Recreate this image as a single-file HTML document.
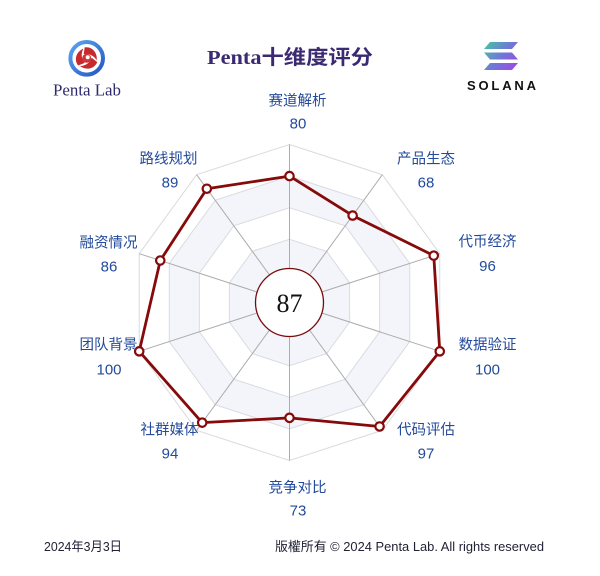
<!DOCTYPE html>
<html>
<head>
<meta charset="utf-8">
<style>
html,body{margin:0;padding:0;background:#fff;}
svg{display:block;}
.lab{font-family:"Liberation Sans","Noto Sans CJK SC",sans-serif;font-size:14.5px;fill:#234a9b;text-anchor:middle;}
.num{font-family:"Liberation Sans","Noto Sans CJK SC",sans-serif;font-size:15px;fill:#234a9b;text-anchor:middle;}
</style>
</head>
<body>
<svg width="600" height="576" viewBox="0 0 600 576" xmlns="http://www.w3.org/2000/svg">
<defs>
<linearGradient id="blueRing" x1="0" y1="0" x2="1" y2="1">
<stop offset="0" stop-color="#5aa6f0"/>
<stop offset="1" stop-color="#2456c2"/>
</linearGradient>
<linearGradient id="sol" x1="484" y1="42" x2="518" y2="70" gradientUnits="userSpaceOnUse">
<stop offset="0" stop-color="#46c9a2"/>
<stop offset="0.5" stop-color="#6f78d6"/>
<stop offset="1" stop-color="#a443e6"/>
</linearGradient>
</defs>
<rect width="600" height="576" fill="#fff"/>

<!-- Penta Lab logo -->
<circle cx="86.7" cy="58.3" r="16.3" fill="#fff" stroke="url(#blueRing)" stroke-width="4"/>
<g transform="translate(86.7,58.3)" fill="#c62a2c">
<path d="M-2,-11 C6,-12 11,-5 10,2 C7,-3 2,-5 -3,-4 Z"/>
<path transform="rotate(120)" d="M-2,-11 C6,-12 11,-5 10,2 C7,-3 2,-5 -3,-4 Z"/>
<path transform="rotate(240)" d="M-2,-11 C6,-12 11,-5 10,2 C7,-3 2,-5 -3,-4 Z"/>
<circle r="4.5" fill="#d23436"/>
<circle r="2" cx="1" cy="-1" fill="#fff"/>
</g>
<text x="87" y="95.5" font-family="'Liberation Serif',serif" font-size="16.5" fill="#2e2a6b" text-anchor="middle" textLength="68" lengthAdjust="spacingAndGlyphs">Penta Lab</text>

<!-- Title -->
<text x="290" y="64" font-family="'Liberation Serif','Noto Sans CJK SC',serif" font-size="20" font-weight="bold" fill="#3b2a72" text-anchor="middle" textLength="166" lengthAdjust="spacingAndGlyphs">Penta十维度评分</text>

<!-- Solana logo -->
<g fill="url(#sol)">
<polygon points="490,42 518,42 512,49 484,49"/>
<polygon points="484,52.5 512,52.5 518,59.5 490,59.5"/>
<polygon points="490,63 518,63 512,70 484,70"/>
</g>
<text x="502.5" y="90" font-family="'Liberation Sans',sans-serif" font-size="13" font-weight="bold" fill="#111" text-anchor="middle" letter-spacing="2" textLength="71" lengthAdjust="spacing">SOLANA</text>

<!-- Radar -->
<g transform="translate(289.5,302.5)">
<path fill="#f3f5fb" fill-rule="evenodd" d="
M0,-126.4 L74.3,-102.26 L120.22,-39.06 L120.22,39.06 L74.3,102.26 L0,126.4 L-74.3,102.26 L-120.22,39.06 L-120.22,-39.06 L-74.3,-102.26 Z
M0,-94.8 L55.72,-76.69 L90.16,-29.29 L90.16,29.29 L55.72,76.69 L0,94.8 L-55.72,76.69 L-90.16,29.29 L-90.16,-29.29 L-55.72,-76.69 Z"/>
<path fill="#f3f5fb" fill-rule="evenodd" d="
M0,-63.2 L37.15,-51.13 L60.11,-19.53 L60.11,19.53 L37.15,51.13 L0,63.2 L-37.15,51.13 L-60.11,19.53 L-60.11,-19.53 L-37.15,-51.13 Z
M0,-31.6 L18.57,-25.56 L30.05,-9.76 L30.05,9.76 L18.57,25.56 L0,31.6 L-18.57,25.56 L-30.05,9.76 L-30.05,-9.76 L-18.57,-25.56 Z"/>
<g fill="none" stroke="#d9dbe0" stroke-width="1">
<polygon points="0,-31.6 18.57,-25.56 30.05,-9.76 30.05,9.76 18.57,25.56 0,31.6 -18.57,25.56 -30.05,9.76 -30.05,-9.76 -18.57,-25.56"/>
<polygon points="0,-63.2 37.15,-51.13 60.11,-19.53 60.11,19.53 37.15,51.13 0,63.2 -37.15,51.13 -60.11,19.53 -60.11,-19.53 -37.15,-51.13"/>
<polygon points="0,-94.8 55.72,-76.69 90.16,-29.29 90.16,29.29 55.72,76.69 0,94.8 -55.72,76.69 -90.16,29.29 -90.16,-29.29 -55.72,-76.69"/>
<polygon points="0,-126.4 74.3,-102.26 120.22,-39.06 120.22,39.06 74.3,102.26 0,126.4 -74.3,102.26 -120.22,39.06 -120.22,-39.06 -74.3,-102.26"/>
<polygon points="0,-158 92.87,-127.82 150.27,-48.82 150.27,48.82 92.87,127.82 0,158 -92.87,127.82 -150.27,48.82 -150.27,-48.82 -92.87,-127.82"/>
</g>
<g stroke="#acacac" stroke-width="1">
<line x1="0" y1="0" x2="0" y2="-158"/>
<line x1="0" y1="0" x2="92.87" y2="-127.82"/>
<line x1="0" y1="0" x2="150.27" y2="-48.82"/>
<line x1="0" y1="0" x2="150.27" y2="48.82"/>
<line x1="0" y1="0" x2="92.87" y2="127.82"/>
<line x1="0" y1="0" x2="0" y2="158"/>
<line x1="0" y1="0" x2="-92.87" y2="127.82"/>
<line x1="0" y1="0" x2="-150.27" y2="48.82"/>
<line x1="0" y1="0" x2="-150.27" y2="-48.82"/>
<line x1="0" y1="0" x2="-92.87" y2="-127.82"/>
</g>
<polygon fill="none" stroke="#860a0a" stroke-width="2.8" stroke-linejoin="round" points="0,-126.4 63.15,-86.92 144.26,-46.87 150.27,48.82 90.08,123.99 0,115.34 -87.3,120.15 -150.27,48.82 -129.23,-41.99 -82.65,-113.76"/>
<g fill="#fff" stroke="#860a0a" stroke-width="2.2">
<circle cx="0" cy="-126.4" r="4.2"/>
<circle cx="63.15" cy="-86.92" r="4.2"/>
<circle cx="144.26" cy="-46.87" r="4.2"/>
<circle cx="150.27" cy="48.82" r="4.2"/>
<circle cx="90.08" cy="123.99" r="4.2"/>
<circle cx="0" cy="115.34" r="4.2"/>
<circle cx="-87.3" cy="120.15" r="4.2"/>
<circle cx="-150.27" cy="48.82" r="4.2"/>
<circle cx="-129.23" cy="-41.99" r="4.2"/>
<circle cx="-82.65" cy="-113.76" r="4.2"/>
</g>
<circle cx="0" cy="0" r="34" fill="#fff" stroke="#7a0a0a" stroke-width="1.3"/>
<text x="0" y="9.5" font-family="'Liberation Serif',serif" font-size="26" fill="#111" text-anchor="middle">87</text>
</g>

<!-- labels -->
<text class="lab" x="297.5" y="105.5" textLength="58" lengthAdjust="spacingAndGlyphs">赛道解析</text>
<text class="num" x="298" y="128.3">80</text>
<text class="lab" x="426" y="163.5" textLength="58" lengthAdjust="spacingAndGlyphs">产品生态</text>
<text class="num" x="426" y="187.5">68</text>
<text class="lab" x="487.5" y="246.5" textLength="58" lengthAdjust="spacingAndGlyphs">代币经济</text>
<text class="num" x="487.5" y="271">96</text>
<text class="lab" x="487.5" y="349.5" textLength="58" lengthAdjust="spacingAndGlyphs">数据验证</text>
<text class="num" x="487.5" y="374.5">100</text>
<text class="lab" x="426" y="434.5" textLength="58" lengthAdjust="spacingAndGlyphs">代码评估</text>
<text class="num" x="426" y="458.5">97</text>
<text class="lab" x="297.5" y="492.5" textLength="58" lengthAdjust="spacingAndGlyphs">竞争对比</text>
<text class="num" x="298" y="515.5">73</text>
<text class="lab" x="169.5" y="434.5" textLength="58" lengthAdjust="spacingAndGlyphs">社群媒体</text>
<text class="num" x="170" y="458.5">94</text>
<text class="lab" x="108.5" y="349.5" textLength="58" lengthAdjust="spacingAndGlyphs">团队背景</text>
<text class="num" x="109" y="374.5">100</text>
<text class="lab" x="108.5" y="247.5" textLength="58" lengthAdjust="spacingAndGlyphs">融资情况</text>
<text class="num" x="109" y="271.5">86</text>
<text class="lab" x="168.5" y="163.5" textLength="58" lengthAdjust="spacingAndGlyphs">路线规划</text>
<text class="num" x="170" y="187.5">89</text>

<!-- footer -->
<text x="44" y="551" font-family="'Liberation Sans','Noto Sans CJK SC',sans-serif" font-size="13" fill="#222236" textLength="78" lengthAdjust="spacingAndGlyphs">2024年3月3日</text>
<text x="275" y="551" font-family="'Liberation Sans','Noto Sans CJK TC',sans-serif" font-size="13" fill="#222236" textLength="269" lengthAdjust="spacingAndGlyphs">版權所有 © 2024 Penta Lab. All rights reserved</text>
</svg>
</body>
</html>
